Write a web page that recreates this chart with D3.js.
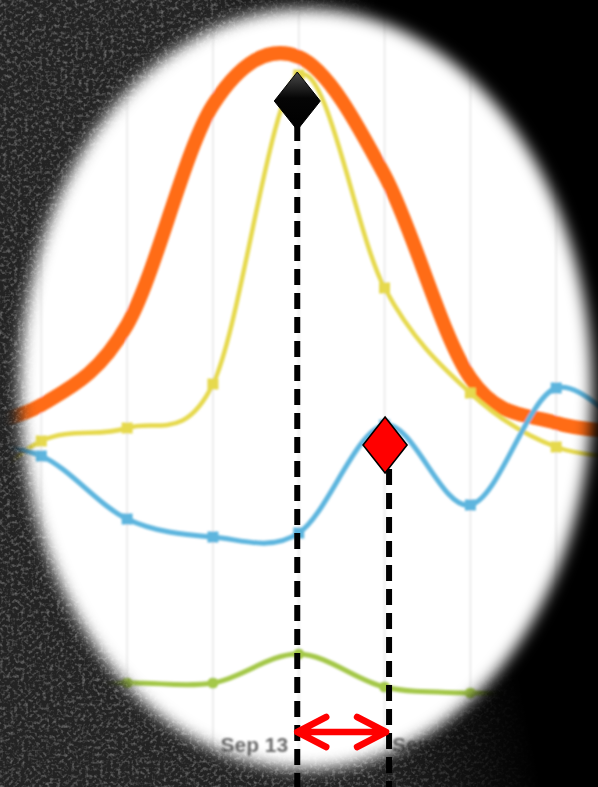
<!DOCTYPE html>
<html>
<head>
<meta charset="utf-8">
<script src="https://cdn.jsdelivr.net/npm/d3@7/dist/d3.min.js"></script>
<style>
html,body{margin:0;padding:0;background:#000;overflow:hidden;}
svg{display:block;}
</style>
</head>
<body>
<svg id="chart" width="598" height="787"></svg>
<script>
// ---- data ----
const categories = ["2013-09-09T12:00","2013-09-10T12:00","2013-09-11T12:00","2013-09-12T12:00",
  "2013-09-13T12:00","2013-09-14T12:00","2013-09-15T12:00","2013-09-16T12:00","2013-09-17T12:00"];
const orangeValues = [312, 335, 415, 635, 683, 565, 362, 317, 308];
const yellowValues = [230, 299, 312, 356, 665, 452, 347, 293, 282];
const blueValues   = [296, 284, 221, 203, 207, 315, 235, 352, 290];
const greenValues  = [40, 50, 57, 57, 86, 53, 47, 45, 45];
const tickLabels   = ["2013-09-11T00:00","2013-09-13T00:00","2013-09-15T00:00"];
// annotations: [category index, value]
const peakMarker   = [4, 639];
const dipMarker    = [5, 295];

const W = 598, H = 787;
const parse = d3.isoParse;
const dates = categories.map(parse);
const x = d3.scaleTime().domain([dates[0], dates[dates.length-1]]).range([-44.5, 642]);
const y = d3.scaleLinear().domain([0, 700]).range([740, 40]);

const svg = d3.select("#chart");
const defs = svg.append("defs");

// noise texture
const nf = defs.append("filter").attr("id","noise").attr("x",0).attr("y",0).attr("width","100%").attr("height","100%");
nf.append("feTurbulence").attr("type","fractalNoise").attr("baseFrequency",0.28).attr("numOctaves",2).attr("seed",11);
nf.append("feColorMatrix").attr("type","matrix")
  .attr("values","0 0 0 0 1  0 0 0 0 1  0 0 0 0 1  2.6 0 0 0 -1.2");

const blurMask = defs.append("filter").attr("id","maskBlur").attr("x","-20%").attr("y","-20%").attr("width","140%").attr("height","140%");
blurMask.append("feGaussianBlur").attr("stdDeviation", 7.5);

const soft = defs.append("filter").attr("id","soft").attr("x","-10%").attr("y","-10%").attr("width","120%").attr("height","120%");
soft.append("feGaussianBlur").attr("stdDeviation", 0.9);

const mask = defs.append("mask").attr("id","vig").attr("maskUnits","userSpaceOnUse")
  .attr("x",0).attr("y",0).attr("width",W).attr("height",H);
mask.append("rect").attr("width",W).attr("height",H).attr("fill","black");
mask.append("ellipse").attr("cx",306).attr("cy",389).attr("rx",286).attr("ry",380)
  .attr("fill","white").attr("filter","url(#maskBlur)");

const darkGrad = defs.append("linearGradient").attr("id","darkGrad").attr("gradientUnits","userSpaceOnUse")
  .attr("x1",215).attr("y1",15).attr("x2",375).attr("y2",-18);
darkGrad.append("stop").attr("offset","0").attr("stop-color","#000").attr("stop-opacity",0);
darkGrad.append("stop").attr("offset","1").attr("stop-color","#000").attr("stop-opacity",1);

const diaGrad = defs.append("linearGradient").attr("id","diaGrad").attr("x1",0).attr("x2",0).attr("y1",0).attr("y2",1);
diaGrad.append("stop").attr("offset","0").attr("stop-color","#4a4a4a");
diaGrad.append("stop").attr("offset","0.45").attr("stop-color","#050505");
diaGrad.append("stop").attr("offset","1").attr("stop-color","#000");

// background
svg.append("rect").attr("width",W).attr("height",H).attr("fill","#232323");
svg.append("rect").attr("width",W).attr("height",H).attr("filter","url(#noise)").attr("opacity",0.3);
svg.append("rect").attr("width",W).attr("height",H).attr("fill","url(#darkGrad)");

// masked chart
const chart = svg.append("g").attr("mask","url(#vig)");
chart.append("rect").attr("width",W).attr("height",H).attr("fill","#fff");

const inner = chart.append("g").attr("filter","url(#soft)");

inner.append("g").selectAll("line").data(dates).join("line")
  .attr("x1", d => x(d)).attr("x2", d => x(d)).attr("y1", 0).attr("y2", H)
  .attr("stroke","#ededed").attr("stroke-width",2);

const line = vals => d3.line().x((d,i) => x(dates[i])).y(d => y(d)).curve(d3.curveCardinal.tension(0))(vals);

const series = [
  {vals: orangeValues, color:"#ff6c17", width:14, marker:null},
  {vals: yellowValues, color:"#e6d94e", width:4.5, marker:"square"},
  {vals: blueValues,   color:"#5db5de", width:5, marker:"square"},
  {vals: greenValues,  color:"#a4c84a", width:5, marker:"circle"}
];
series.forEach(s => {
  inner.append("path").attr("d", line(s.vals)).attr("fill","none")
    .attr("stroke", s.color).attr("stroke-width", s.width).attr("stroke-linecap","round");
  if (s.marker === "square") {
    inner.append("g").selectAll("rect").data(s.vals).join("rect")
      .attr("x",(d,i)=>x(dates[i])-5.5).attr("y",d=>y(d)-5.5).attr("width",11).attr("height",11)
      .attr("fill", s.color);
  } else if (s.marker === "circle") {
    inner.append("g").selectAll("circle").data(s.vals).join("circle")
      .attr("cx",(d,i)=>x(dates[i])).attr("cy",d=>y(d)).attr("r",5.5).attr("fill", s.color);
  }
});

// x axis labels
const axis = d3.axisBottom(x).tickValues(tickLabels.map(parse)).tickFormat(d3.timeFormat("%b %-d")).tickSize(0);
const ax = inner.append("g").attr("transform","translate(0,736)").call(axis);
ax.select(".domain").remove();
ax.selectAll("text").attr("font-family","Liberation Sans, Arial, sans-serif").attr("font-size",21)
  .attr("font-weight","bold").attr("fill","#6a6a6a").attr("dy","0.6em").attr("dx","-2");

// annotations
const ann = svg.append("g");
const px = x(dates[peakMarker[0]]) - 1.5, py = y(peakMarker[1]);
const rx = x(dates[dipMarker[0]]) + 4.5, ry = y(dipMarker[1]);

ann.append("line").attr("x1",px).attr("x2",px).attr("y1",py+24).attr("y2",H)
  .attr("stroke","#000").attr("stroke-width",6).attr("stroke-dasharray","16,8");
ann.append("line").attr("x1",rx).attr("x2",rx).attr("y1",ry+24).attr("y2",H)
  .attr("stroke","#000").attr("stroke-width",6).attr("stroke-dasharray","16,8");

const diamond = (cx, cy, hw, hh) => `M${cx},${cy-hh}L${cx+hw},${cy}L${cx},${cy+hh}L${cx-hw},${cy}Z`;
ann.append("path").attr("d", diamond(px, py, 23, 29)).attr("fill","url(#diaGrad)")
  .attr("stroke","#000").attr("stroke-width",1);
ann.append("path").attr("d", diamond(rx-4, ry, 22, 28)).attr("fill","#ff0000")
  .attr("stroke","#000").attr("stroke-width",1.6);

// double arrow
const ay = 732, ax1 = px, ax2 = rx - 3;
ann.append("path")
  .attr("d", `M${ax1},${ay}L${ax2},${ay}M${ax1+29},${ay-15}L${ax1},${ay}L${ax1+29},${ay+15}M${ax2-29},${ay-15}L${ax2},${ay}L${ax2-29},${ay+15}`)
  .attr("fill","none").attr("stroke","#ff0000").attr("stroke-width",6.5)
  .attr("stroke-linecap","round").attr("stroke-linejoin","round");
</script>
</body>
</html>
